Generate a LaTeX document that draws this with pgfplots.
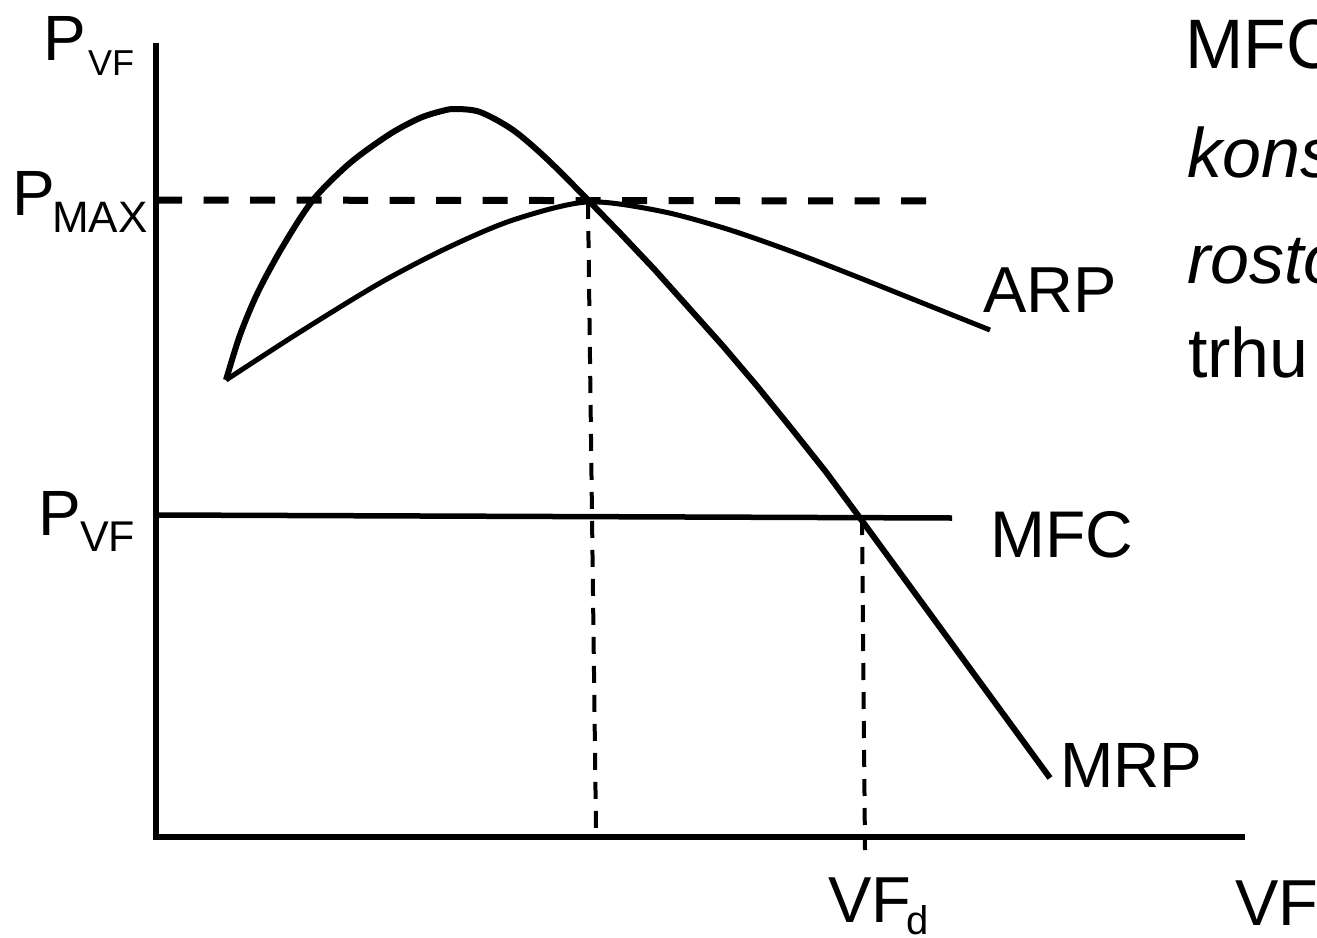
\documentclass[border=0pt]{standalone}
\usepackage{pgfplots}
\pgfplotsset{compat=1.18}
\usepackage{fontspec}
\setmainfont{Liberation Sans}
\begin{document}
\begin{tikzpicture}
\begin{axis}[name=ax, width=1317pt, height=937pt, scale only axis,
  xmin=0, xmax=1317, ymin=0, ymax=937, y dir=reverse, hide axis, clip=false]
% axes
\addplot[black, line width=5.5pt] coordinates {(156,43) (156,837)};
\addplot[black, line width=5.5pt] coordinates {(153,837) (1245,837)};
% P_MAX dashed
\addplot[black, line width=7pt, dash pattern=on 25pt off 21.5pt] coordinates {(157,200) (935,201)};
% vertical dashed
\addplot[black, line width=4pt, dash pattern=on 17pt off 12pt] coordinates {(588,202) (596,830)};
\addplot[black, line width=4pt, dash pattern=on 17pt off 12pt] coordinates {(862,518) (865,850)};
% MFC
\addplot[black, line width=5.5pt] coordinates {(157,515) (952,518)};
% ARP
\addplot[black, line width=5pt, smooth] coordinates {
(226,380) (300,332) (380,283) (447,248) (513,220) (587,202) (660,211) (727,229) (793,252) (860,278) (925,304) (990,330)};
% MRP (rising part and peak)
\addplot[black, line width=6pt, smooth] coordinates {
(226,380) (240,335) (258,292) (283,246) (313,200) (350,163) (390,134) (420,118) (442,111) (455,109) (480,112) (513,130) (547,159) (590,202)};
% MRP (falling part)
\addplot[black, line width=6pt, line join=round] coordinates {
(587,199) (621,234) (655,270) (689,308) (723,346) (757,386) (791,428) (826,472) (860,518) (955,648) (1050,778)};
% labels
\node[anchor=base west, inner sep=0pt, font=\fontsize{64}{64}\selectfont] at (axis cs:43,60) {P};
\node[anchor=base west, inner sep=0pt, font=\fontsize{36}{36}\selectfont] at (axis cs:88,75) {VF};
\node[anchor=base west, inner sep=0pt, font=\fontsize{64}{64}\selectfont] at (axis cs:12,215) {P};
\node[anchor=base west, inner sep=0pt, font=\fontsize{44}{44}\selectfont] at (axis cs:52,232) {MAX};
\node[anchor=base west, inner sep=0pt, font=\fontsize{64}{64}\selectfont] at (axis cs:38,535) {P};
\node[anchor=base west, inner sep=0pt, font=\fontsize{43}{43}\selectfont] at (axis cs:80,551) {VF};
\node[anchor=base west, inner sep=0pt, font=\fontsize{65}{65}\selectfont] at (axis cs:983,312) {ARP};
\node[anchor=base west, inner sep=0pt, font=\fontsize{66}{66}\selectfont] at (axis cs:990,557) {MFC};
\node[anchor=base west, inner sep=0pt, font=\fontsize{64}{64}\selectfont] at (axis cs:1060,787) {MRP};
\node[anchor=base west, inner sep=0pt, font=\fontsize{65}{65}\selectfont] at (axis cs:828,922) {VF};
\node[anchor=base west, inner sep=0pt, font=\fontsize{40}{40}\selectfont] at (axis cs:906,934) {d};
\node[anchor=base west, inner sep=0pt, font=\fontsize{65}{65}\selectfont] at (axis cs:1235,925) {VF};
% right text (cut off by the picture edge)
\node[anchor=base west, inner sep=0pt, font=\fontsize{70}{70}\selectfont] at (axis cs:1185,68) {MFC je};
\node[anchor=base west, inner sep=0pt, font=\fontsize{70}{70}\selectfont\itshape] at (axis cs:1187,177) {konstantní};
\node[anchor=base west, inner sep=0pt, font=\fontsize{70}{70}\selectfont\itshape] at (axis cs:1187,283) {rostoucí};
\node[anchor=base west, inner sep=0pt, font=\fontsize{70}{70}\selectfont] at (axis cs:1188,377) {trhu};
\end{axis}
\pgfresetboundingbox
\useasboundingbox (ax.south west) rectangle (ax.north east);
\end{tikzpicture}
\end{document}
